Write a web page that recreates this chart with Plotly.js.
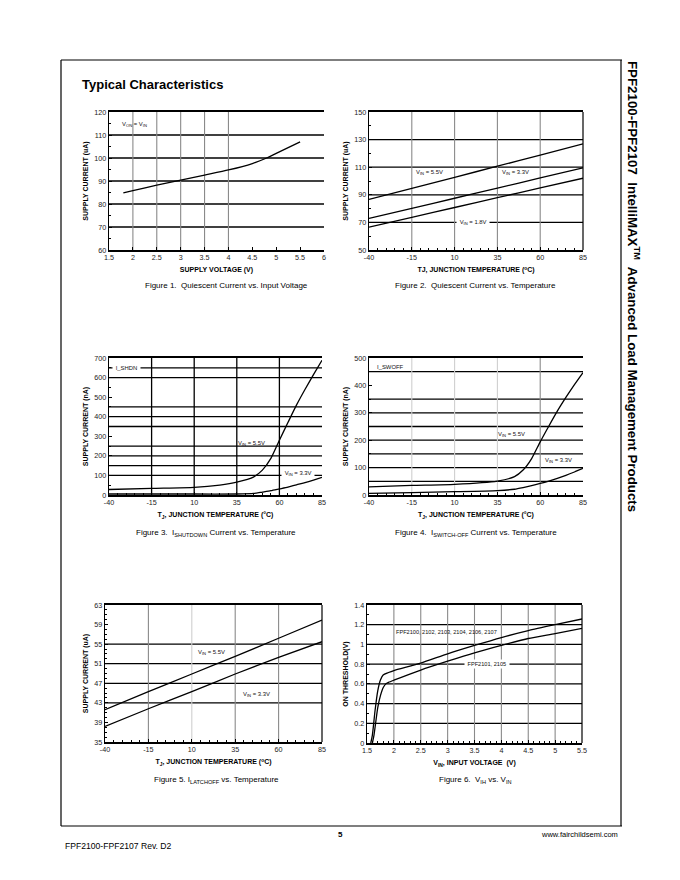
<!DOCTYPE html>
<html>
<head>
<meta charset="utf-8">
<script src="https://cdn.plot.ly/plotly-3.0.1.min.js"></script>
<style>html,body{margin:0;padding:0;background:#fff;}#chart{width:680px;height:880px;}</style>
</head>
<body>
<div id="chart"></div>
<script>
// ---------- DATA ----------
// Figure 1: quiescent current vs input voltage
const fig1Voltage = [1.8, 2, 2.5, 3, 3.5, 4, 4.5, 4.8, 5, 5.5];
const fig1Current = [84.8, 85.8, 88.2, 90.4, 92.6, 94.8, 97.6, 100, 102, 107];

// Figure 2: quiescent current vs temperature
const fig2Temp = [-40, -15, 10, 35, 60, 85];
const fig2Vin55 = [86.6, 94.6, 102.7, 110.7, 118.8, 126.9];
const fig2Vin33 = [72.9, 80.2, 87.5, 94.8, 102.2, 109.5];
const fig2Vin18 = [66.6, 73.7, 80.8, 87.9, 95.0, 102.0];

// Figure 3: I_SHUTDOWN vs temperature
const fig3Temp55 = [-40, -15, 10, 25, 35, 45, 50, 55, 60, 65, 70, 75, 80, 85];
const fig3Vin55 = [28, 34, 39, 51, 66, 93, 127, 187, 280, 370, 459, 539, 615, 688];
const fig3Temp33 = [-40, -15, 10, 35, 45, 50, 55, 60, 65, 70, 75, 80, 85];
const fig3Vin33 = [5, 5, 5, 5, 8, 15, 22, 31, 40, 52, 63, 76, 90];

// Figure 4: I_SWITCH-OFF vs temperature
const fig4Temp = [-40, -15, 10, 35, 45, 50, 55, 60, 65, 70, 75, 80, 85];
const fig4Vin55 = [30, 35, 39, 51, 67, 91, 133, 194, 251, 306, 356, 403, 447];
const fig4Vin33 = [6, 9, 12, 16, 21, 27, 34, 42, 51, 61, 72, 84, 97];

// Figure 5: I_LATCHOFF vs temperature
const fig5Temp = [-40, -15, 10, 35, 60, 85];
const fig5Vin55 = [41.6, 45.3, 48.9, 52.5, 56.2, 59.9];
const fig5Vin33 = [38.2, 41.8, 45.3, 48.9, 52.3, 55.5];

// Figure 6: V_IH vs V_IN
const fig6VinA = [1.57, 1.6, 1.65, 1.7, 1.75, 1.8, 1.9, 2.0, 2.5, 3, 3.5, 4, 4.5, 5, 5.5];
const fig6ThrA = [0, 0.08, 0.33, 0.53, 0.64, 0.69, 0.715, 0.735, 0.81, 0.905, 0.99, 1.07, 1.14, 1.2, 1.258];
const fig6VinB = [1.6, 1.63, 1.7, 1.75, 1.8, 1.85, 1.9, 2.0, 2.5, 3, 3.5, 4, 4.5, 5, 5.5];
const fig6ThrB = [0, 0.08, 0.36, 0.48, 0.56, 0.6, 0.615, 0.637, 0.74, 0.83, 0.915, 0.99, 1.06, 1.11, 1.163];

// Temperature tick labels (plain hyphen minus, as in the datasheet)
const tempTickVals = [-40, -15, 10, 35, 60, 85];
const tempTickText = ['-40', '-15', '10', '35', '60', '85'];

// Grid line values
const grid1H = [70, 80, 90, 100, 110];
const grid1V = [2, 2.5, 3, 3.5, 4];
const grid2H = [70, 90, 110, 130];
const grid2V = [-15, 10, 35, 60];
const grid3H = [100, 150, 200, 250, 350, 400, 450, 600, 650];
const grid3V = [-15, 10, 35, 60];
const grid4H = [50, 100, 150, 200, 250, 300, 350, 450];
const grid4Vlight = [-15, 10, 35];
const grid4Vdark = [60];
const grid5H = [43, 47, 51, 55];
const grid5Vlight = [10];
const grid5Vdark = [-15, 35, 60];
const grid6H = [0.2, 0.4, 0.6, 0.8, 1, 1.2];
const grid6V = [2, 2.5, 3, 3.5, 4, 4.5, 5];

// ---------- LAYOUT HELPERS ----------
const FONT = 'Liberation Sans, Arial, Helvetica, sans-serif';
const W = 680, H = 880;
const px = x => x / W;
const py = y => 1 - y / H;

function xAxis(l, r, range, tick0, dtick, title, minorDtick) {
  return {
    domain: [px(l), px(r)], range: range, tick0: tick0, dtick: dtick,
    showgrid: false, zeroline: false, showline: true, linecolor: '#000', linewidth: 1.8, mirror: true,
    ticks: 'inside', ticklen: 3, tickcolor: '#000', tickwidth: 1,
    minor: minorDtick ? {ticks: 'inside', ticklen: 2, dtick: minorDtick, tickcolor: '#000', showgrid: false} : undefined,
    tickfont: {family: FONT, size: 7.2, color: '#222'},
    title: {text: title, font: {family: FONT, size: 7, color: '#000', weight: 'bold'}, standoff: 6},
    fixedrange: true
  };
}
function yAxis(t, b, range, tick0, dtick, title, minorDtick) {
  return {
    domain: [py(b), py(t)], range: range, tick0: tick0, dtick: dtick,
    showgrid: false, zeroline: false, showline: true, linecolor: '#000', linewidth: 1.3,
    ticks: 'inside', ticklen: 3, tickcolor: '#000', tickwidth: 1,
    minor: minorDtick ? {ticks: 'inside', ticklen: 2, dtick: minorDtick, tickcolor: '#000', showgrid: false} : undefined,
    tickfont: {family: FONT, size: 7.2, color: '#222'},
    title: {text: title, font: {family: FONT, size: 7, color: '#000', weight: 'bold'}, standoff: 4},
    fixedrange: true
  };
}
function tempX(l, r, title, anchor) {
  return Object.assign(xAxis(l, r, [-40, 85], -40, 25, title, 5),
    {tickmode: 'array', tickvals: tempTickVals, ticktext: tempTickText, anchor: anchor});
}

const shapes = [];
function hLines(ax, vals, color, width) {
  vals.forEach(v => shapes.push({type: 'line', layer: 'below', xref: ax.x + ' domain', x0: 0, x1: 1,
    yref: ax.y, y0: v, y1: v, line: {color: color, width: width}}));
}
function vLines(ax, vals, color, width) {
  vals.forEach(v => shapes.push({type: 'line', layer: 'below', yref: ax.y + ' domain', y0: 0, y1: 1,
    xref: ax.x, x0: v, x1: v, line: {color: color, width: width}}));
}
function rightBorder(ax) {
  shapes.push({type: 'line', layer: 'above', xref: ax.x + ' domain', x0: 1, x1: 1,
    yref: ax.y + ' domain', y0: 0, y1: 1, line: {color: '#000', width: 1.2}});
}

const A1 = {x: 'x', y: 'y'}, A2 = {x: 'x2', y: 'y2'}, A3 = {x: 'x3', y: 'y3'},
      A4 = {x: 'x4', y: 'y4'}, A5 = {x: 'x5', y: 'y5'}, A6 = {x: 'x6', y: 'y6'};

const BLK = '#000', GRY = '#8a8a8a', LGR = '#cfcfcf';
hLines(A1, grid1H, BLK, 1.3); vLines(A1, grid1V, GRY, 1.1);
hLines(A2, grid2H, BLK, 1.3); vLines(A2, grid2V, GRY, 1.1); rightBorder(A2);
hLines(A3, grid3H, BLK, 1.3); vLines(A3, grid3V, BLK, 1.3);
hLines(A4, grid4H, BLK, 1.3); vLines(A4, grid4Vlight, LGR, 1.1); vLines(A4, grid4Vdark, GRY, 1.1);
hLines(A5, grid5H, BLK, 1.3); vLines(A5, grid5Vlight, LGR, 1.1); vLines(A5, grid5Vdark, GRY, 1.1); rightBorder(A5);
hLines(A6, grid6H, BLK, 1.3); vLines(A6, grid6V, GRY, 1.1); rightBorder(A6);

// page frame
const frame = {color: '#000', width: 1.2};
shapes.push({type: 'line', xref: 'paper', yref: 'paper', x0: px(61), x1: px(622), y0: py(60), y1: py(60), line: frame});
shapes.push({type: 'line', xref: 'paper', yref: 'paper', x0: px(61), x1: px(61), y0: py(60), y1: py(826), line: frame});
shapes.push({type: 'line', xref: 'paper', yref: 'paper', x0: px(61), x1: px(622), y0: py(826), y1: py(826), line: frame});
shapes.push({type: 'line', xref: 'paper', yref: 'paper', x0: px(621), x1: px(621), y0: py(60), y1: py(826), line: frame});

// ---------- TRACES ----------
const LINE = {color: '#000', width: 1.3, shape: 'spline', smoothing: 0.6};
const traces = [
  {x: fig1Voltage, y: fig1Current, xaxis: 'x', yaxis: 'y', mode: 'lines', line: LINE, hoverinfo: 'skip'},
  {x: fig2Temp, y: fig2Vin55, xaxis: 'x2', yaxis: 'y2', mode: 'lines', line: LINE, hoverinfo: 'skip'},
  {x: fig2Temp, y: fig2Vin33, xaxis: 'x2', yaxis: 'y2', mode: 'lines', line: LINE, hoverinfo: 'skip'},
  {x: fig2Temp, y: fig2Vin18, xaxis: 'x2', yaxis: 'y2', mode: 'lines', line: LINE, hoverinfo: 'skip'},
  {x: fig3Temp55, y: fig3Vin55, xaxis: 'x3', yaxis: 'y3', mode: 'lines', line: LINE, hoverinfo: 'skip'},
  {x: fig3Temp33, y: fig3Vin33, xaxis: 'x3', yaxis: 'y3', mode: 'lines', line: LINE, hoverinfo: 'skip'},
  {x: fig4Temp, y: fig4Vin55, xaxis: 'x4', yaxis: 'y4', mode: 'lines', line: LINE, hoverinfo: 'skip'},
  {x: fig4Temp, y: fig4Vin33, xaxis: 'x4', yaxis: 'y4', mode: 'lines', line: LINE, hoverinfo: 'skip'},
  {x: fig5Temp, y: fig5Vin55, xaxis: 'x5', yaxis: 'y5', mode: 'lines', line: LINE, hoverinfo: 'skip'},
  {x: fig5Temp, y: fig5Vin33, xaxis: 'x5', yaxis: 'y5', mode: 'lines', line: LINE, hoverinfo: 'skip'},
  {x: fig6VinA, y: fig6ThrA, xaxis: 'x6', yaxis: 'y6', mode: 'lines', line: LINE, hoverinfo: 'skip'},
  {x: fig6VinB, y: fig6ThrB, xaxis: 'x6', yaxis: 'y6', mode: 'lines', line: LINE, hoverinfo: 'skip'}
];

// ---------- ANNOTATIONS ----------
const ann = [];
const LBL = 5.9;
function label(ax, x, y, text, bg) {
  ann.push({xref: ax.x, yref: ax.y, x: x, y: y, text: text, showarrow: false, xanchor: 'left', yanchor: 'middle',
    font: {family: FONT, size: LBL, color: '#111'}, bgcolor: bg ? '#fff' : 'rgba(0,0,0,0)', borderpad: 1});
}
function pageText(x, y, text, size, opts) {
  ann.push(Object.assign({xref: 'paper', yref: 'paper', x: px(x), y: py(y), text: text, showarrow: false,
    xanchor: 'center', yanchor: 'middle', font: {family: FONT, size: size, color: '#000'}}, opts || {}));
}
label(A1, 1.72, 114.6, 'V<sub>ON</sub> = V<sub>IN</sub>');
label(A2, -13.7, 106, 'V<sub>IN</sub> = 5.5V');
label(A2, 36.3, 106, 'V<sub>IN</sub> = 3.3V');
label(A2, 11, 70, ' V<sub>IN</sub> = 1.8V ', true);
label(A3, -38, 650, ' I_SHDN ', true);
label(A3, 34.8, 263, 'V<sub>IN</sub> = 5.5V');
label(A3, 61, 112, ' V<sub>IN</sub> = 3.3V ', true);
label(A4, -36.7, 466, 'I_SWOFF');
label(A4, 34.4, 221, 'V<sub>IN</sub> = 5.5V');
label(A4, 61.6, 127, 'V<sub>IN</sub> = 3.3V');
label(A5, 12.7, 53.3, 'V<sub>IN</sub> = 5.5V');
label(A5, 38.6, 44.8, 'V<sub>IN</sub> = 3.3V');
ann.push({xref: 'x6', yref: 'y6', x: 2.0, y: 1.13, text: 'FPF2100, 2102, 2103, 2104, 2106, 2107', showarrow: false,
  xanchor: 'left', yanchor: 'middle', font: {family: FONT, size: 5.6, color: '#111'}});
ann.push({xref: 'x6', yref: 'y6', x: 3.3, y: 0.8, text: ' FPF2101, 2105 ', showarrow: false,
  xanchor: 'left', yanchor: 'middle', bgcolor: '#fff', borderpad: 1, font: {family: FONT, size: 5.6, color: '#111'}});

// captions
pageText(226, 286, 'Figure 1.  Quiescent Current vs. Input Voltage', 8);
pageText(476, 286, 'Figure 2.  Quiescent Current vs. Temperature', 8);
pageText(216, 533, 'Figure 3.  I<sub>SHUTDOWN</sub> Current vs. Temperature', 8);
pageText(476, 533, 'Figure 4.  I<sub>SWITCH-OFF</sub> Current vs. Temperature', 8);
pageText(216, 780, 'Figure 5. I<sub>LATCHOFF</sub> vs. Temperature', 8);
pageText(476, 780, 'Figure 6.  V<sub>IH</sub> vs. V<sub>IN</sub>', 8);

// header / side title / footer
pageText(80, 84, '<b>Typical Characteristics</b>', 13, {xanchor: 'left'});
pageText(633, 286, '<b>FPF2100-FPF2107  IntelliMAX<sup>TM</sup>  Advanced Load Management Products</b>', 13.3, {textangle: 90});
pageText(340, 834, '<b>5</b>', 8);
pageText(620, 834, 'www.fairchildsemi.com', 7.5, {xanchor: 'right'});
pageText(63, 846, 'FPF2100-FPF2107 Rev. D2', 8.6, {xanchor: 'left'});

// ---------- LAYOUT ----------
const layout = {
  width: W, height: H, margin: {l: 0, r: 0, t: 0, b: 0},
  paper_bgcolor: '#fff', plot_bgcolor: 'rgba(0,0,0,0)', showlegend: false,
  font: {family: FONT, color: '#000'},
  xaxis: Object.assign(xAxis(109, 324, [1.5, 6], 1.5, 0.5, 'SUPPLY VOLTAGE (V)', null), {anchor: 'y'}),
  yaxis: Object.assign(yAxis(112, 250, [60, 120], 60, 10, 'SUPPLY CURRENT (uA)', 5), {anchor: 'x'}),
  xaxis2: tempX(369, 583, 'TJ, JUNCTION TEMPERATURE (<sup>o</sup>C)', 'y2'),
  yaxis2: Object.assign(yAxis(112, 250, [50, 150], 50, 20, 'SUPPLY CURRENT (uA)', 10), {anchor: 'x2'}),
  xaxis3: tempX(109, 322, 'T<sub>J</sub>, JUNCTION TEMPERATURE (°C)', 'y3'),
  yaxis3: Object.assign(yAxis(358, 495, [0, 700], 0, 100, 'SUPPLY CURRENT (nA)', 50), {anchor: 'x3'}),
  xaxis4: tempX(369, 583, 'T<sub>J</sub>, JUNCTION TEMPERATURE (°C)', 'y4'),
  yaxis4: Object.assign(yAxis(358, 495, [0, 500], 0, 100, 'SUPPLY CURRENT (nA)', 50), {anchor: 'x4'}),
  xaxis5: tempX(105, 322, 'T<sub>J</sub>, JUNCTION TEMPERATURE (<sup>o</sup>C)', 'y5'),
  yaxis5: Object.assign(yAxis(605, 742, [35, 63], 35, 4, 'SUPPLY CURRENT (uA)', 1), {anchor: 'x5'}),
  xaxis6: Object.assign(xAxis(367, 582, [1.5, 5.5], 1.5, 0.5, 'V<sub>IN</sub>, INPUT VOLTAGE  (V)', 0.1), {anchor: 'y6'}),
  yaxis6: Object.assign(yAxis(605, 743, [0, 1.4], 0, 0.2, 'ON THRESHOLD(V)', 0.1), {anchor: 'x6'}),
  shapes: shapes,
  annotations: ann
};

Plotly.newPlot('chart', traces, layout, {staticPlot: true, displayModeBar: false});
</script>
</body>
</html>
